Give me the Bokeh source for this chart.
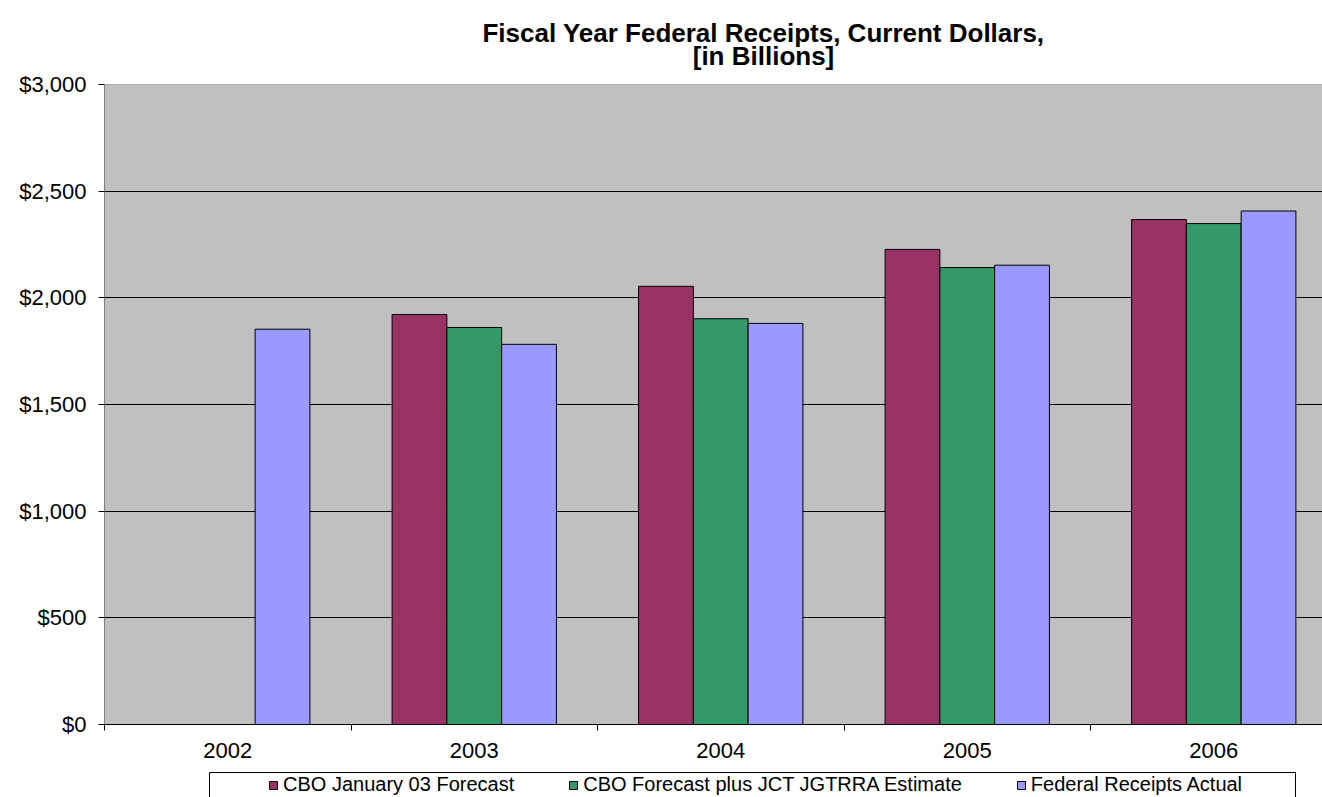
from bokeh.plotting import figure
from bokeh.layouts import column
from bokeh.models import (ColumnDataSource, Range1d, FixedTicker, NumeralTickFormatter,
                          Label, Span)
from bokeh.embed import file_html
from bokeh.resources import INLINE

# ---- data ----
years = ["2002", "2003", "2004", "2005", "2006"]
cbo_jan03 = [None, 1922, 2054, 2227, 2367]
cbo_jgtrra = [None, 1861, 1902, 2142, 2348]
receipts_actual = [1853, 1782, 1880, 2153, 2407]
series_names = ["CBO January 03 Forecast",
                "CBO Forecast plus JCT JGTRRA Estimate",
                "Federal Receipts Actual"]
series_colors = ["#993366", "#339966", "#9999FF"]
y_ticks = [0, 500, 1000, 1500, 2000, 2500, 3000]
title_lines = ["Fiscal Year Federal Receipts, Current Dollars,", "[in Billions]"]

FONT = "Liberation Sans"
W = 1322
LEFT, AXIS_H = 104, 42
TITLE_H, TOP_PAD = 71, 13          # title strip + gap above the plot frame (frame top at 84)
FRAME_H = 640
LEG_H = 31
CAT_PX = 246.5
frame_w = W - LEFT

# ---- title strip ----
p0 = figure(width=W, height=TITLE_H, output_backend="svg", toolbar_location=None,
            x_range=Range1d(LEFT, W), y_range=Range1d(0, TITLE_H),
            x_axis_type=None, y_axis_type=None, min_border=0,
            outline_line_color=None, background_fill_color="white",
            border_fill_color="white")
p0.grid.visible = False
TITLE_CX = 763
for line, cy in zip(title_lines, [32, 55.5]):
    p0.add_layout(Label(x=TITLE_CX, y=TITLE_H - cy, text=line,
                        text_align="center", text_baseline="middle",
                        text_font=FONT, text_font_style="bold",
                        text_font_size="26px", text_color="black"))

# ---- main chart ----
p = figure(frame_width=frame_w, frame_height=FRAME_H,
           output_backend="svg", toolbar_location=None,
           x_range=Range1d(0, frame_w / CAT_PX), y_range=Range1d(0, 3000),
           min_border_left=LEFT, min_border_right=0, min_border_top=TOP_PAD,
           min_border_bottom=AXIS_H, background_fill_color="#C0C0C0",
           border_fill_color="white", outline_line_color=None)

bar_w = 1.0 / 4.5
offsets = [-bar_w, 0.0, bar_w]
all_series = [cbo_jan03, cbo_jgtrra, receipts_actual]
for k, (vals, col) in enumerate(zip(all_series, series_colors)):
    xs, tops = [], []
    for i, v in enumerate(vals):
        if v is None:
            continue
        xs.append(i + 0.5 + offsets[k])
        tops.append(v)
    src = ColumnDataSource(dict(x=xs, top=tops))
    p.vbar(x="x", top="top", width=bar_w, bottom=0, source=src,
           fill_color=col, line_color="black", line_width=1)

# x axis: labels at centres, ticks at boundaries
centres = [i + 0.5 for i in range(len(years))]
p.xaxis.ticker = FixedTicker(ticks=centres, minor_ticks=list(range(len(years) + 1)))
p.xaxis.major_label_overrides = {c: y for c, y in zip(centres, years)}
p.xaxis.major_tick_out = 0
p.xaxis.major_tick_in = 0
p.xaxis.minor_tick_out = 6
p.xaxis.minor_tick_in = 0
p.xaxis.minor_tick_line_color = "black"
p.xaxis.axis_line_color = "black"
p.xaxis.major_label_standoff = 12
p.xaxis.major_label_text_font = FONT
p.xaxis.major_label_text_font_size = "22px"
p.xaxis.major_label_text_color = "black"

# y axis
p.yaxis.ticker = FixedTicker(ticks=y_ticks)
p.yaxis.formatter = NumeralTickFormatter(format="$0,0")
p.yaxis.major_tick_out = 6
p.yaxis.major_tick_in = 0
p.yaxis.minor_tick_out = 0
p.yaxis.minor_tick_in = 0
p.yaxis.major_tick_line_color = "black"
p.yaxis.axis_line_color = "#808080"
p.yaxis.major_label_standoff = 12
p.yaxis.major_label_text_font = FONT
p.yaxis.major_label_text_font_size = "22px"
p.yaxis.major_label_text_color = "black"

p.xgrid.visible = False
p.ygrid.ticker = FixedTicker(ticks=y_ticks[1:-1])
p.ygrid.grid_line_color = "black"
p.ygrid.grid_line_width = 1

p.add_layout(Span(location=3000, dimension="width", line_color="#808080", line_width=1))

# ---- legend strip below the chart (x in page pixels) ----
p2 = figure(width=W, height=LEG_H, output_backend="svg", toolbar_location=None,
            x_range=Range1d(LEFT, W), y_range=Range1d(0, LEG_H),
            x_axis_type=None, y_axis_type=None, min_border=0,
            outline_line_color=None, background_fill_color="white",
            border_fill_color="white")
p2.grid.visible = False
LEG_LEFT, LEG_RIGHT, LEG_TOP_GAP = 209, 1295, 6
p2.quad(left=[LEG_LEFT], right=[LEG_RIGHT], bottom=[-10], top=[LEG_H - LEG_TOP_GAP],
        fill_color="white", line_color="black", line_width=1)
for name, col in zip(series_names, series_colors):
    # proxy renderer far below the visible strip, only used for the legend swatch
    p2.vbar(x=[LEG_LEFT], top=[-500], bottom=-600, width=1, fill_color=col,
            line_color="black", line_width=1, legend_label=name)

lg = p2.legend[0]
lg.orientation = "horizontal"
lg.location = (268 - LEFT, 1)
lg.padding = 0
lg.spacing = 54
lg.margin = 0
lg.glyph_width = 10
lg.glyph_height = 10
lg.label_standoff = 5
lg.label_text_font = FONT
lg.label_text_font_size = "20px"
lg.label_text_color = "black"
lg.border_line_color = None
lg.background_fill_alpha = 0

layout = column(p0, p, p2, spacing=0)
open("out.html", "w").write(file_html(layout, INLINE))
